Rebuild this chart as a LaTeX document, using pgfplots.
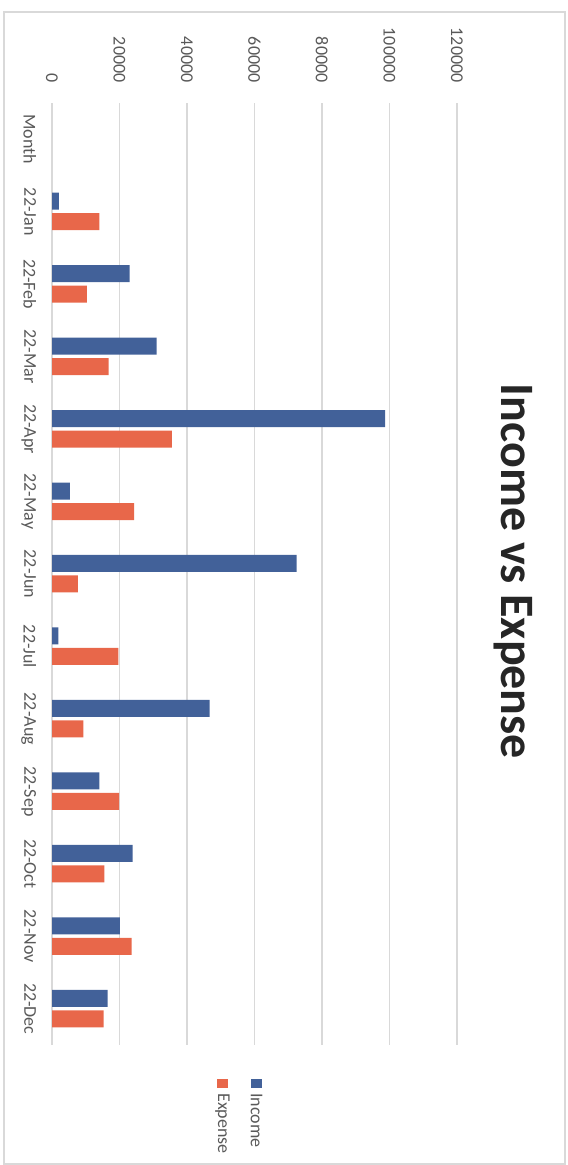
\documentclass[border=0pt]{standalone}
\usepackage{pgfplots}
\pgfplotsset{compat=1.18}
\usepackage{fontspec}
\setmainfont{Carlito}
\definecolor{incblue}{HTML}{426199}
\definecolor{expor}{HTML}{E8674A}
\definecolor{lbl}{HTML}{595959}
\definecolor{ttl}{HTML}{262626}
\definecolor{grd}{HTML}{D9D9D9}
\begin{document}
\begin{tikzpicture}
\path[use as bounding box] (0,0) rectangle (283.5pt,582.5pt);
\draw[color=grd, line width=0.6pt] (2pt,0.5pt) rectangle (282.5pt,576.5pt);
\begin{axis}[
  at={(26pt,60pt)}, anchor=south west,
  scale only axis, width=202.5pt, height=471pt,
  xbar, bar width=8.5pt,
  xmin=0, xmax=120000, ymin=-0.5, ymax=12.5,
  xtick={0,20000,40000,60000,80000,100000,120000},
  scaled x ticks=false,
  /pgf/number format/.cd, fixed, precision=0, 1000 sep={}, assume math mode=true, /pgfplots/.cd,
  xticklabel pos=upper,
  xticklabel style={rotate=-90, anchor=east, inner sep=0pt, font=\fontsize{9}{11}\selectfont, color=lbl},
  xticklabel shift=10pt,
  ytick={0,1,2,3,4,5,6,7,8,9,10,11,12},
  yticklabels={22-Dec,22-Nov,22-Oct,22-Sep,22-Aug,22-Jul,22-Jun,22-May,22-Apr,22-Mar,22-Feb,22-Jan,Month},
  yticklabel style={rotate=-90, anchor=north, inner sep=0pt, font=\fontsize{9}{11}\selectfont, color=lbl},
  yticklabel shift=3.5pt,
  xmajorgrids, major grid style={color=grd, line width=0.75pt},
  axis line style={draw=none}, tick style={draw=none},
  title={Income vs Expense},
  title style={at={(axis description cs:1.138,0.49)}, rotate=-90, anchor=center, font=\fontsize{24}{28}\selectfont\bfseries, color=ttl},
]
\addplot[fill=incblue, draw=none, bar shift=5.25pt]
  coordinates {(2000,11) (23000,10) (31000,9) (98700,8) (5300,7) (72500,6) (1900,5) (46700,4) (14000,3) (23900,2) (20100,1) (16500,0)};
\addplot[fill=expor, draw=none, bar shift=-5pt]
  coordinates {(14000,11) (10300,10) (16800,9) (35500,8) (24300,7) (7700,6) (19700,5) (9300,4) (19900,3) (15500,2) (23600,1) (15300,0)};
\end{axis}
% legend (rotated like the reference)
\fill[incblue] (125.5pt,38.5pt) rectangle (131pt,43pt);
\node[rotate=-90, anchor=west, inner sep=0pt, font=\fontsize{9}{11}\selectfont, text=lbl] at (128.25pt,36pt) {Income};
\fill[expor] (108.5pt,38.5pt) rectangle (114pt,43pt);
\node[rotate=-90, anchor=west, inner sep=0pt, font=\fontsize{9}{11}\selectfont, text=lbl] at (111.25pt,36pt) {Expense};
\end{tikzpicture}
\end{document}
